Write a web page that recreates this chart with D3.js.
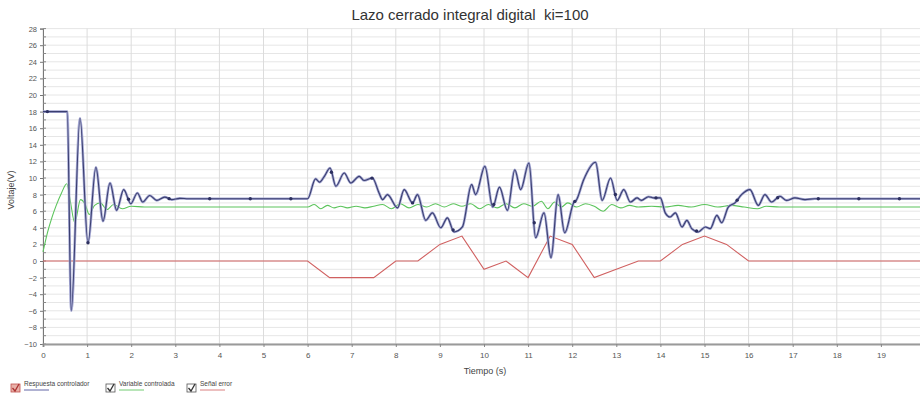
<!DOCTYPE html>
<html>
<head>
<meta charset="utf-8">
<script src="https://cdn.jsdelivr.net/npm/d3@7/dist/d3.min.js"></script>
<style>
  html, body { margin: 0; padding: 0; background: #fff; }
  svg { display: block; font-family: "Liberation Sans", Arial, sans-serif; }
</style>
</head>
<body>
<svg id="chart" width="920" height="399"></svg>
<script>
// Controller output (Respuesta controlador): time (s) and voltage (V)
const respuestaT = [0, 0.55, 0.64, 0.84, 1.02, 1.2, 1.36, 1.52, 1.67, 1.83, 1.99, 2.14, 2.26, 2.42, 2.58, 2.76, 2.92, 3.1, 3.3, 6.0,
  6.18, 6.27, 6.38, 6.51, 6.64, 6.83, 6.98, 7.17, 7.28, 7.47, 7.62, 7.7, 7.81, 8.04, 8.19, 8.38, 8.49, 8.68, 8.83, 9.02, 9.17, 9.32, 9.51,
  9.72, 9.81, 10.02, 10.2, 10.35, 10.53, 10.7, 10.83, 11.02, 11.17, 11.36, 11.52, 11.68, 11.83, 12.04, 12.09, 12.26, 12.53, 12.68, 12.87,
  13.02, 13.17, 13.32, 13.47, 13.57, 13.73, 13.85, 14.0, 14.11, 14.22, 14.34, 14.49, 14.6, 14.71, 14.86, 15.02, 15.13, 15.28, 15.39,
  15.54, 15.69, 15.84, 16.03, 16.22, 16.37, 16.52, 16.71, 16.86, 17.05, 17.28, 17.5, 20];
const respuestaV = [18, 18, -6, 17.2, 2.2, 11.3, 4.8, 9.4, 6.1, 8.6, 6.9, 8.2, 7.1, 7.9, 7.3, 7.7, 7.4, 7.55, 7.5, 7.5,
  9.9, 9.5, 10.2, 11.2, 9.0, 10.6, 9.4, 10.2, 9.7, 10.0, 8.2, 7.4, 8.0, 6.4, 8.6, 7.0, 8.0, 4.9, 5.8, 4.0, 5.2, 3.5, 4.1,
  9.2, 8.0, 11.4, 6.5, 8.9, 6.1, 11.0, 8.6, 11.8, 2.8, 5.8, 0.4, 8.0, 3.4, 7.1, 7.3, 9.8, 11.9, 7.3, 10.0,
  7.3, 8.6, 7.1, 7.6, 7.3, 7.75, 7.6, 7.6, 5.8, 5.3, 5.8, 4.1, 4.9, 3.9, 3.5, 4.1, 3.9, 5.5, 4.6,
  6.5, 7.0, 8.0, 8.6, 6.7, 8.0, 7.1, 7.8, 7.3, 7.6, 7.4, 7.5, 7.5];
// Sample markers drawn on the controller output line
const marcadoresT = [0.10, 1.02, 1.94, 2.86, 3.78, 4.70, 5.62, 6.54, 7.46, 8.38, 9.30, 10.22, 11.14, 12.06, 12.98, 13.90, 14.82, 15.74, 16.66, 17.58, 18.50, 19.42];

// Controlled variable (Variable controlada)
const variableT = [0, 0.1, 0.2, 0.3, 0.42, 0.54, 0.62, 0.72, 0.85, 0.95, 1.05, 1.17, 1.3, 1.45, 1.6, 1.8, 2.0, 2.3, 6.0,
  6.15, 6.3, 6.45, 6.6, 6.75, 6.9, 7.1, 7.3, 7.5, 7.7, 7.9, 8.1, 8.3, 8.5, 8.7, 8.9, 9.1, 9.3, 9.5, 9.7, 9.9, 10.1, 10.3, 10.5,
  10.7, 10.9, 11.1, 11.3, 11.45, 11.6, 11.75, 11.9, 12.1, 12.3, 12.5, 12.7, 12.9, 13.1, 13.3, 13.5, 13.8, 14.1, 14.4, 14.7,
  15.0, 15.3, 15.6, 15.9, 16.2, 16.4, 16.7, 20];
const variableV = [1.1, 3.4, 5.2, 6.7, 8.2, 9.3, 7.2, 4.6, 7.4, 6.9, 5.6, 6.7, 7.0, 6.2, 6.8, 6.3, 6.6, 6.5, 6.5,
  6.8, 6.3, 6.7, 6.4, 6.6, 6.4, 6.6, 6.4, 6.6, 6.8, 6.3, 6.9, 6.4, 6.8, 6.5, 6.9, 6.5, 6.9, 6.6, 6.9, 6.3, 6.8, 6.4, 6.9,
  6.4, 6.9, 6.6, 7.2, 6.3, 7.1, 6.5, 7.0, 6.5, 6.9, 6.6, 6.0, 6.8, 6.4, 6.7, 6.5, 6.6, 6.5, 6.7, 6.5,
  6.8, 6.5, 6.7, 6.5, 6.3, 6.6, 6.5, 6.5];

// Error signal (Señal error)
const errorT = [0, 6, 6.5, 7.5, 8, 8.5, 9, 9.5, 10, 10.5, 11, 11.5, 12, 12.5, 13, 13.5, 14, 14.5, 15, 15.5, 16, 20];
const errorV = [0, 0, -2, -2, 0, 0, 2, 3, -1, 0, -2, 3, 2, -2, -1, 0, 0, 2, 3, 2, 0, 0];

// Axis ticks
const xTicks = d3.range(0, 21, 1);
const yTicks = d3.range(-10, 29, 2);
const yMinorTicks = d3.range(-10, 29, 1);

const titulo = "Lazo cerrado integral digital  ki=100";
const ejeX = "Tiempo (s)";
const ejeY = "Voltaje(V)";
const leyenda = [
  { nombre: "Respuesta controlador", color: "#3a3f8f", caja: "#c0504d" },
  { nombre: "Variable controlada", color: "#4fbf4f", caja: "#555" },
  { nombre: "Señal error", color: "#d06060", caja: "#555" }
];

const svg = d3.select("#chart");
const x = d3.scaleLinear().domain([0, 20]).range([43, 925]);
const y = d3.scaleLinear().domain([-10, 28]).range([344, 28.6]);

// Grid
const grid = svg.append("g");
grid.selectAll("line.h").data(yMinorTicks).join("line")
  .attr("x1", x(0)).attr("x2", 920)
  .attr("y1", d => y(d)).attr("y2", d => y(d))
  .attr("stroke", "#e6e6e6").attr("stroke-width", 1);
grid.selectAll("line.v").data(xTicks).join("line")
  .attr("x1", d => x(d)).attr("x2", d => x(d))
  .attr("y1", y(28)).attr("y2", y(-10))
  .attr("stroke", "#dcdcdc").attr("stroke-width", 1);

// Title
svg.append("text").attr("x", 470).attr("y", 20).attr("text-anchor", "middle")
  .style("white-space", "pre")
  .attr("font-size", 15).attr("fill", "#333").text(titulo);

// Axes
const yAxis = svg.append("g").attr("transform", `translate(${x(0)},0)`)
  .call(d3.axisLeft(y).tickValues(yTicks).tickSize(3).tickPadding(3));
yAxis.select(".domain").attr("stroke", "#777");
yAxis.selectAll(".tick line").attr("stroke", "#777");
yAxis.selectAll("text").attr("font-size", 7.5).attr("fill", "#555");
svg.append("g").selectAll("line").data(yMinorTicks).join("line")
  .attr("x1", x(0)).attr("x2", x(0) + 3)
  .attr("y1", d => y(d)).attr("y2", d => y(d))
  .attr("stroke", "#888");

const xAxis = svg.append("g").attr("transform", `translate(0,${y(-10)})`)
  .call(d3.axisBottom(x).tickValues(xTicks).tickSize(3).tickPadding(5).tickFormat(d3.format("d")));
xAxis.select(".domain").attr("stroke", "#9a9a9a").attr("stroke-width", 2);
xAxis.selectAll(".tick line").attr("stroke", "#888");
xAxis.selectAll("text").attr("font-size", 8).attr("fill", "#555");

svg.append("text").attr("x", 485).attr("y", 374).attr("text-anchor", "middle")
  .attr("font-size", 9).attr("fill", "#444").text(ejeX);
svg.append("text").attr("transform", `translate(14,190) rotate(-90)`).attr("text-anchor", "middle")
  .attr("font-size", 9).attr("fill", "#444").text(ejeY);

// Series
const plot = svg.append("g");
const serie = (ts, vs) => ts.map((t, i) => [t, vs[i]]);
const lineSmooth = d3.line().x(d => x(d[0])).y(d => y(d[1])).curve(d3.curveMonotoneX);
const lineStraight = d3.line().x(d => x(d[0])).y(d => y(d[1]));

plot.append("path").datum(serie(errorT, errorV)).attr("d", lineStraight)
  .attr("fill", "none").attr("stroke", "#d06060").attr("stroke-width", 1.1);
plot.append("path").datum(serie(variableT, variableV)).attr("d", lineSmooth)
  .attr("fill", "none").attr("stroke", "#5cc45c").attr("stroke-width", 1.1);

const resp = serie(respuestaT, respuestaV);
plot.append("path").datum(resp).attr("d", lineSmooth)
  .attr("fill", "none").attr("stroke", "#a4a7d2").attr("stroke-width", 2.6);
plot.append("path").datum(resp).attr("d", lineSmooth)
  .attr("fill", "none").attr("stroke", "#3a3e70").attr("stroke-width", 1.1);

// Markers placed on the controller output by linear interpolation
const bis = d3.bisector(d => d[0]).left;
const valorEn = t => {
  const i = Math.max(1, bis(resp, t));
  const a = resp[i - 1], b = resp[i];
  return a[1] + (b[1] - a[1]) * (t - a[0]) / (b[0] - a[0]);
};
plot.selectAll("circle.m").data(marcadoresT).join("circle")
  .attr("cx", d => x(d)).attr("cy", d => y(valorEn(d))).attr("r", 1.7)
  .attr("fill", "#2d3060");

// Legend
const posLeyenda = [11, 106, 187];
const lg = svg.append("g").selectAll("g").data(leyenda).join("g")
  .attr("transform", (d, i) => `translate(${posLeyenda[i]},381)`);
lg.append("rect").attr("x", 0).attr("y", 3).attr("width", 9).attr("height", 8)
  .attr("fill", (d, i) => i === 0 ? "#e8b0a8" : "#fff").attr("stroke", d => d.caja).attr("stroke-width", 0.8);
lg.append("path").attr("d", "M1.5,7 L4,10 L8,3").attr("fill", "none")
  .attr("stroke", (d, i) => i === 0 ? "#a33" : "#333").attr("stroke-width", 1.3);
lg.append("text").attr("x", 13).attr("y", 5).attr("font-size", 6.5).attr("fill", "#444").text(d => d.nombre);
lg.append("line").attr("x1", 13).attr("x2", 38).attr("y1", 9).attr("y2", 9)
  .attr("stroke", d => d.color).attr("stroke-width", 0.8);
</script>
</body>
</html>
